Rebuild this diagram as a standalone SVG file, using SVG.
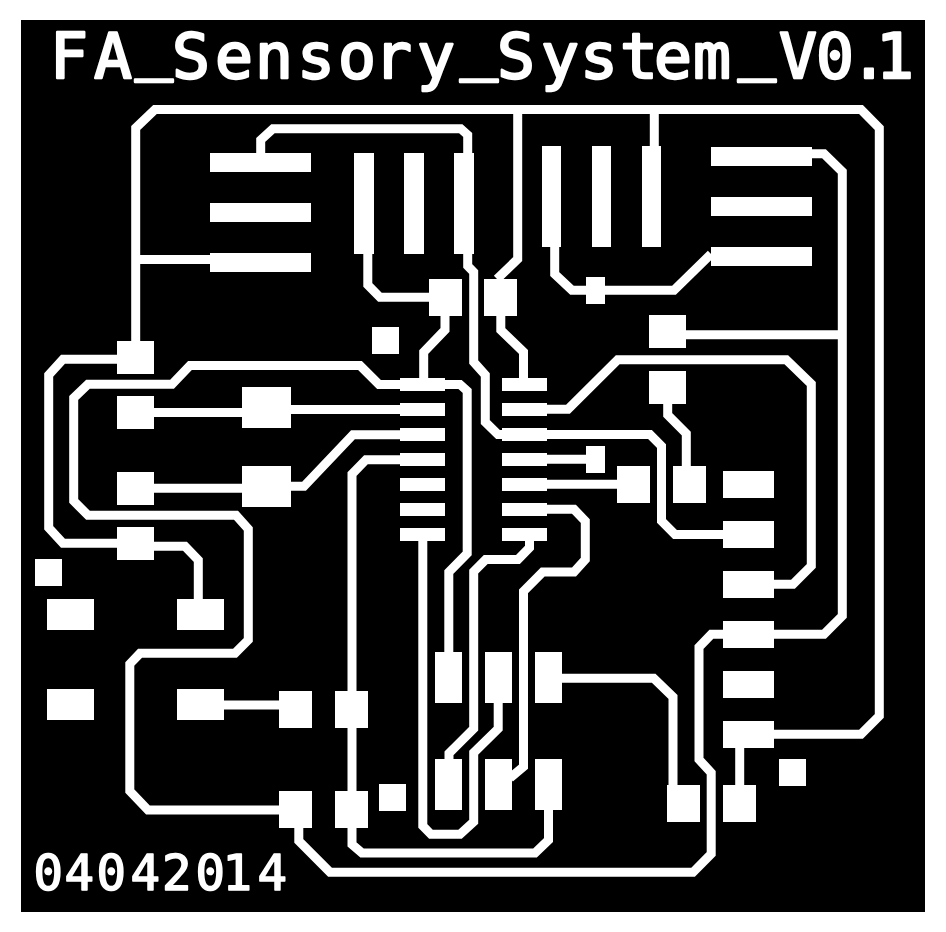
<svg xmlns="http://www.w3.org/2000/svg" width="946" height="932" viewBox="0 0 946 932">
<style>
.t{fill:none;stroke:#fff;stroke-width:9;stroke-linejoin:miter;stroke-linecap:butt}
.p{fill:#fff}
.l{font-family:"DejaVu Sans Mono","Liberation Mono",monospace;fill:#fff;stroke:#fff;stroke-linejoin:round}
</style>
<rect x="0" y="0" width="946" height="932" fill="#fff"/>
<rect x="21" y="20" width="904" height="892" fill="#000"/>
<g id="connectors">
<path class="t" d="M135.7 341V128L155 109.5H861L879.3 128V716L861 734.3H774"/>
<path class="t" d="M135.7 259.5H210"/>
<path class="t" d="M517.7 109.5V259L497 279"/>
<path class="t" d="M654.3 109.5V146"/>
<path class="t" d="M260.7 153V140L273 128.7H460.7L467.7 135V266L473.7 272V362L485.3 375V422L498 434.5H650L661.5 446V521L675 534.5H723"/>
<path class="t" d="M367.8 254V285L380 297.3H429"/>
<path class="t" d="M445 316V330L423.7 352V378"/>
<path class="t" d="M500.8 316V330L523.5 352V378"/>
<path class="t" d="M117 359.3H63L48.7 375V527.7L63 543.3H117"/>
<path class="t" d="M154 546.3H185L198.3 560V599"/>
<path class="t" d="M400 384.5H379L360 365.5H190L172 384.3H88L73.7 398V501L88 515.3H236L248.3 529V640L235 653.3H140L129.8 664V791L148 810H279"/>
<path class="t" d="M445 384.5H460L467.2 391V553.3L448.8 572V652"/>
<path class="t" d="M291 409.5H400"/>
<path class="t" d="M154 412.5H242"/>
<path class="t" d="M291 486.3H304L353 434.7H400"/>
<path class="t" d="M154 488.3H242"/>
<path class="t" d="M400 459.7H366L352 474V844.5L362 853H535L548.5 840V810"/>
<path class="t" d="M298.8 828V841L330 872.3H693L711.2 854V772.7L699 759.5V647L711.3 634.3H723"/>
<path class="t" d="M774 634.3H824L842.3 616V171.7L824 153.7H812"/>
<path class="t" d="M686 334.7H842.3"/>
<path class="t" d="M554.7 247V274L572 290.3H674L711 254"/>
<path class="t" d="M547 409.3H568L617.7 359.7H786.3L811.3 384V566L793 584.3H774"/>
<path class="t" d="M667.7 404V415L686.3 433.7V466"/>
<path class="t" d="M547 459.3H586"/>
<path class="t" d="M547 484.3H617"/>
<path class="t" d="M547 509.3H574L585.3 521V559.5L574 572H542.7L523.5 591.3V766.7L510 778"/>
<path class="t" d="M529.5 541V547.7L518 559.5H485.7L473.7 571.7V728.7L449 753.3V759"/>
<path class="t" d="M498.2 703V728.7L473.7 752.7V821.7L460 834.3H431L422.8 826V541"/>
<path class="t" d="M562 678.3H653.7L673 697V785"/>
<path class="t" d="M739.7 748V785"/>
<path class="t" d="M224 705H279"/>
</g>
<g id="pads" class="p" shape-rendering="crispEdges">
<rect x="210" y="153" width="101" height="19"/><rect x="210" y="203" width="101" height="19"/><rect x="210" y="253" width="101" height="19"/>
<rect x="354" y="153" width="20" height="101"/><rect x="404" y="153" width="20" height="101"/><rect x="454" y="153" width="20" height="101"/>
<rect x="429" y="279" width="33.3" height="36.7"/><rect x="484" y="279" width="33" height="36.7"/>
<rect x="372" y="327" width="27" height="27"/>
<rect x="117" y="341" width="37" height="33"/><rect x="117" y="396" width="37" height="33"/><rect x="117" y="472" width="37" height="33"/><rect x="117" y="527" width="37" height="33"/>
<rect x="242" y="387" width="49" height="41"/><rect x="242" y="466" width="49" height="41"/>
<rect x="400" y="378" width="45" height="13"/><rect x="400" y="403" width="45" height="13"/><rect x="400" y="428" width="45" height="13"/><rect x="400" y="453" width="45" height="13"/><rect x="400" y="478" width="45" height="13"/><rect x="400" y="503" width="45" height="13"/><rect x="400" y="528" width="45" height="13"/>
<rect x="502" y="378" width="45" height="13"/><rect x="502" y="403" width="45" height="13"/><rect x="502" y="428" width="45" height="13"/><rect x="502" y="453" width="45" height="13"/><rect x="502" y="478" width="45" height="13"/><rect x="502" y="503" width="45" height="13"/><rect x="502" y="528" width="45" height="13"/>
<rect x="586" y="446" width="19" height="27"/>
<rect x="542" y="146" width="19" height="101"/><rect x="592" y="146" width="19" height="101"/><rect x="642" y="146" width="19" height="101"/>
<rect x="711" y="147" width="101" height="19"/><rect x="711" y="197" width="101" height="19"/><rect x="711" y="247" width="101" height="19"/>
<rect x="586" y="277" width="19" height="27"/>
<rect x="649" y="315" width="37" height="33"/><rect x="649" y="371" width="37" height="33"/>
<rect x="35" y="559" width="27" height="27"/>
<rect x="47" y="599" width="47" height="31"/><rect x="177" y="599" width="47" height="31"/><rect x="47" y="689" width="47" height="31"/><rect x="177" y="689" width="47" height="31"/>
<rect x="279" y="691" width="33" height="37"/><rect x="335" y="691" width="33" height="37"/><rect x="279" y="791" width="33" height="37"/><rect x="335" y="791" width="33" height="37"/>
<rect x="379" y="784" width="27" height="27"/>
<rect x="435" y="652" width="27" height="51"/><rect x="485" y="652" width="27" height="51"/><rect x="535" y="652" width="27" height="51"/>
<rect x="435" y="759" width="27" height="51"/><rect x="485" y="759" width="27" height="51"/><rect x="535" y="759" width="27" height="51"/>
<rect x="617" y="466" width="33" height="37"/><rect x="673" y="466" width="33" height="37"/>
<rect x="723" y="471" width="51" height="27"/><rect x="723" y="521" width="51" height="27"/><rect x="723" y="571" width="51" height="27"/><rect x="723" y="621" width="51" height="27"/><rect x="723" y="671" width="51" height="27"/><rect x="723" y="721" width="51" height="27"/>
<rect x="779" y="759" width="27" height="27"/>
<rect x="667" y="785" width="33" height="37"/><rect x="723" y="785" width="33" height="37"/>
</g>
<text id="title" class="l" font-size="63" stroke-width="2.4" x="50 94 135 172 215 255 297 338 374 417 460 497 541 580 620 654 693 738 779 816 850 876" y="78 78 66.7 78 78 78 78 78 78 78 66.7 78 78 78 78 78 78 66.7 78 78 78 78">FA_Sensory_System_V0.1</text>
<text id="date" class="l" font-size="49" stroke-width="1.6" x="33.5 64.5 96.5 130.5 162 195.5 222.5 257.5" y="890">04042014</text>
</svg>
